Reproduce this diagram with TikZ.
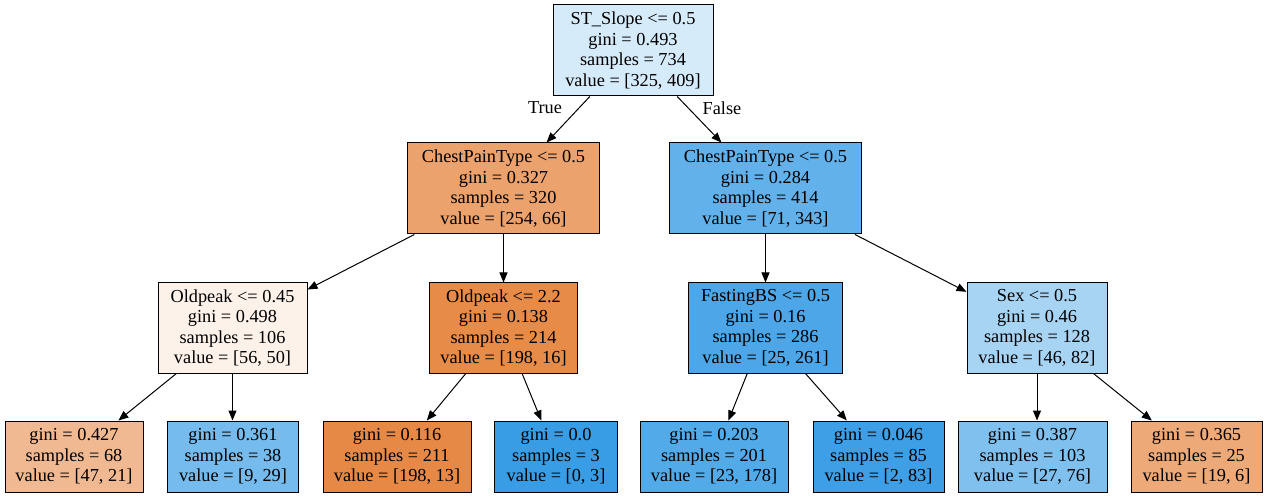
\documentclass[tikz,border=0pt]{standalone}
\usepackage{fontspec}
\setmainfont{Liberation Serif}
\usetikzlibrary{arrows.meta}
\definecolor{dtor}{RGB}{229,129,57}
\definecolor{dtbl}{RGB}{57,157,229}
\begin{document}
\begin{tikzpicture}[x=1pt,y=-1pt,
  tn/.style={draw=black,line width=1pt,align=center,inner sep=0pt,
    font=\fontsize{18.3}{20.5}\selectfont},
  lvlA/.style={tn,minimum height=91pt},
  lvlB/.style={tn,minimum height=90pt},
  lvlC/.style={tn,minimum height=71pt},
  edge/.style={draw=black,line width=1pt,-{Triangle[length=10pt,width=8pt]}},
  elab/.style={font=\fontsize{18.3}{20.5}\selectfont,inner sep=0pt}]
\useasboundingbox[fill=white] (0,0) rectangle (1267,497);
% root
\node[lvlA,minimum width=160pt,fill=dtbl!20.5] (r) at (633,50.5)
  {ST\_Slope <= 0.5\\gini = 0.493\\samples = 734\\value = [325, 409]};
% level 1
\node[lvlA,minimum width=192pt,fill=dtor!74] (a) at (503.5,188.5)
  {ChestPainType <= 0.5\\gini = 0.327\\samples = 320\\value = [254, 66]};
\node[lvlA,minimum width=192pt,fill=dtbl!79.3] (b) at (765.5,188.5)
  {ChestPainType <= 0.5\\gini = 0.284\\samples = 414\\value = [71, 343]};
% level 2
\node[lvlB,minimum width=149pt,fill=dtor!10.7] (c) at (232.5,328)
  {Oldpeak <= 0.45\\gini = 0.498\\samples = 106\\value = [56, 50]};
\node[lvlB,minimum width=148pt,fill=dtor!91.9] (d) at (503.5,328)
  {Oldpeak <= 2.2\\gini = 0.138\\samples = 214\\value = [198, 16]};
\node[lvlB,minimum width=154pt,fill=dtbl!90.4] (e) at (765.5,328)
  {FastingBS <= 0.5\\gini = 0.16\\samples = 286\\value = [25, 261]};
\node[lvlB,minimum width=140pt,fill=dtbl!43.9] (f) at (1037,328)
  {Sex <= 0.5\\gini = 0.46\\samples = 128\\value = [46, 82]};
% level 3
\node[lvlC,minimum width=138pt,fill=dtor!55.3] (g) at (74,456.5)
  {gini = 0.427\\samples = 68\\value = [47, 21]};
\node[lvlC,minimum width=131pt,fill=dtbl!69] (h) at (233,456.5)
  {gini = 0.361\\samples = 38\\value = [9, 29]};
\node[lvlC,minimum width=148pt,fill=dtor!93.4] (i) at (397,456.5)
  {gini = 0.116\\samples = 211\\value = [198, 13]};
\node[lvlC,minimum width=123pt,fill=dtbl] (j) at (556,456.5)
  {gini = 0.0\\samples = 3\\value = [0, 3]};
\node[lvlC,minimum width=148pt,fill=dtbl!87.1] (k) at (714,456.5)
  {gini = 0.203\\samples = 201\\value = [23, 178]};
\node[lvlC,minimum width=131pt,fill=dtbl!97.6] (l) at (878.5,456.5)
  {gini = 0.046\\samples = 85\\value = [2, 83]};
\node[lvlC,minimum width=149pt,fill=dtbl!64.5] (m) at (1032.5,456.5)
  {gini = 0.387\\samples = 103\\value = [27, 76]};
\node[lvlC,minimum width=131pt,fill=dtor!68.4] (n) at (1196.5,456.5)
  {gini = 0.365\\samples = 25\\value = [19, 6]};
% edges
\draw[edge] (r) -- (a);
\draw[edge] (r) -- (b);
\draw[edge] (a) -- (c);
\draw[edge] (a) -- (d);
\draw[edge] (b) -- (e);
\draw[edge] (b) -- (f);
\draw[edge] (c) -- (g);
\draw[edge] (c.south) -- (c.south |- h.north);
\draw[edge] (d) -- (i);
\draw[edge] (d) -- (j);
\draw[edge] (e) -- (k);
\draw[edge] (e) -- (l);
\draw[edge] (f.south) -- (f.south |- m.north);
\draw[edge] (f) -- (n);
% edge labels
\node[elab] (tl) at (545,108) {True};
\node[elab] (fl) at (722,108) {False};
\end{tikzpicture}
\end{document}
